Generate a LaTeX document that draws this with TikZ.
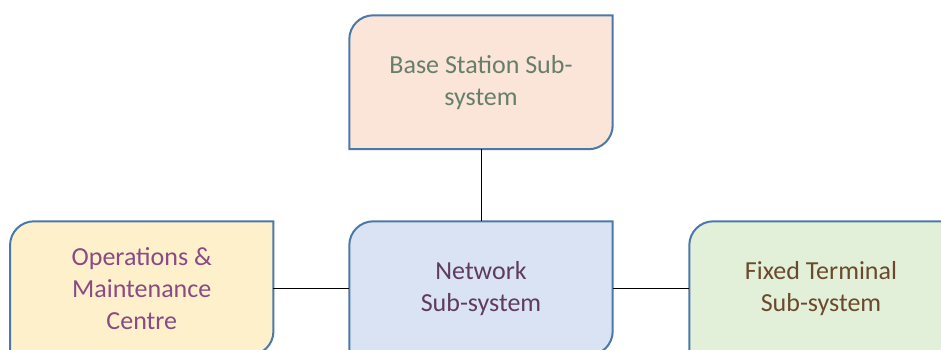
\documentclass[tikz,border=0pt]{standalone}
\usepackage{fontspec}
\setmainfont{Carlito}
\usetikzlibrary{backgrounds}

\definecolor{edgeblue}{HTML}{4A78AA}
\definecolor{peachfill}{HTML}{FAE5D8}
\definecolor{creamfill}{HTML}{FFF0CC}
\definecolor{bluefill}{HTML}{DAE3F3}
\definecolor{greenfill}{HTML}{E2EFD9}
\definecolor{sagetext}{HTML}{667E6A}
\definecolor{plumtext}{HTML}{8A4A82}
\definecolor{grapetext}{HTML}{5E3B5F}
\definecolor{browntext}{HTML}{6B4A2B}

\tikzset{
  unitbox/.style={minimum width=263pt, minimum height=133.5pt, inner sep=0pt,
    align=center, font=\fontsize{26}{32}\selectfont},
  linkline/.style={line width=1pt, draw=black}
}

% box outline: rounded top-left and bottom-right corners only
\newcommand\diagbox[2]{%
  \begin{scope}[on background layer]
    \draw[line width=2pt, draw=edgeblue, fill=#2]
      (#1.south west) -- ([yshift=-24pt]#1.north west)
      arc[start angle=180, end angle=90, radius=24pt]
      -- (#1.north east) -- ([yshift=24pt]#1.south east)
      arc[start angle=0, end angle=-90, radius=24pt]
      -- cycle;
  \end{scope}}

\begin{document}
\begin{tikzpicture}[x=1pt,y=1pt]
  \clip (0,0) rectangle (941,349);
  \node[unitbox, text=sagetext]   (bss) at (481,266.75) {Base Station Sub-\\system};
  \node[unitbox, text=plumtext]   (omc) at (141.75,60.75) {Operations \&\\Maintenance\\Centre};
  \node[unitbox, text=grapetext]  (nss) at (481,60.75) {Network\\Sub-system};
  \node[unitbox, text=browntext]  (fts) at (821,60.75) {Fixed Terminal\\Sub-system};

  \diagbox{bss}{peachfill}
  \diagbox{omc}{creamfill}
  \diagbox{nss}{bluefill}
  \diagbox{fts}{greenfill}

  \draw[linkline] (bss.south) -- (nss.north);
  \draw[linkline] (omc.east) -- (nss.west);
  \draw[linkline] (nss.east) -- (fts.west);
\end{tikzpicture}
\end{document}
